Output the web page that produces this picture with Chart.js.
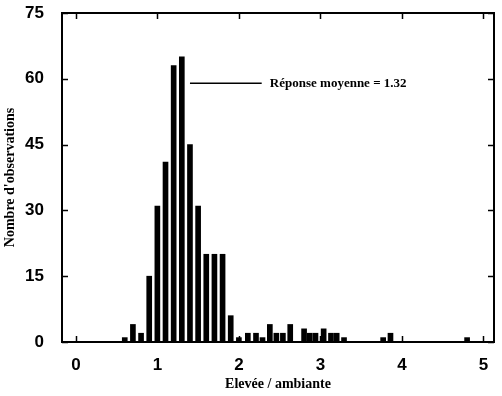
<!DOCTYPE html>
<html>
<head>
<meta charset="utf-8">
<script src="https://cdn.jsdelivr.net/npm/chart.js@4"></script>
<style>
html,body{margin:0;padding:0;background:#fff;}
#wrap{width:502px;height:396px;}
</style>
</head>
<body>
<div id="wrap"><canvas id="c" width="502" height="396"></canvas></div>
<script>
// ---- data ----
const ratios = [0.6, 0.7, 0.8, 0.9, 1.0, 1.1, 1.2, 1.3, 1.4, 1.5, 1.6, 1.7, 1.8, 1.9, 2.0,
                2.11, 2.21, 2.29, 2.38, 2.46, 2.54, 2.63, 2.80, 2.87, 2.94, 3.04, 3.13, 3.20, 3.29,
                3.77, 3.86, 4.8];
const counts = [1, 4, 2, 15, 31, 41, 63, 65, 45, 31, 20, 20, 20, 6, 1,
                2, 2, 1, 4, 2, 2, 4, 3, 2, 2, 3, 2, 2, 1,
                1, 2, 1];
const xTickValues = [0, 1, 2, 3, 4, 5];
const yTickValues = [0, 15, 30, 45, 60, 75];
const xTitle = 'Elevée / ambiante';
const yTitle = "Nombre d'observations";
const meanLabel = 'Réponse moyenne = 1.32';

const points = ratios.map((r, i) => ({x: r, y: counts[i]}));

const boxPlugin = {
  id: 'boxAndAnnot',
  afterDraw(chart) {
    const {ctx, chartArea: a, scales: {x, y}} = chart;
    ctx.save();
    ctx.strokeStyle = '#000';
    // box top and right
    ctx.lineWidth = 2;
    ctx.beginPath();
    ctx.moveTo(a.left, a.top);
    ctx.lineTo(a.right, a.top);
    ctx.lineTo(a.right, a.bottom);
    ctx.stroke();
    // inward ticks
    ctx.lineWidth = 1.5;
    const tl = 6;
    ctx.beginPath();
    xTickValues.forEach(v => {
      const px = Math.round(x.getPixelForValue(v)) + 0.5;
      ctx.moveTo(px, a.bottom); ctx.lineTo(px, a.bottom - tl);
      ctx.moveTo(px, a.top); ctx.lineTo(px, a.top + tl);
    });
    yTickValues.forEach(v => {
      const py = Math.round(y.getPixelForValue(v)) + 0.5;
      ctx.moveTo(a.left, py); ctx.lineTo(a.left + tl, py);
      ctx.moveTo(a.right, py); ctx.lineTo(a.right - tl, py);
    });
    ctx.stroke();
    // annotation
    const ly = y.getPixelForValue(59);
    ctx.lineWidth = 1.5;
    ctx.beginPath();
    ctx.moveTo(x.getPixelForValue(1.40), ly);
    ctx.lineTo(x.getPixelForValue(2.28), ly);
    ctx.stroke();
    ctx.fillStyle = '#000';
    ctx.font = 'bold 13px "Liberation Serif", "Times New Roman", serif';
    ctx.textBaseline = 'middle';
    ctx.textAlign = 'left';
    ctx.fillText(meanLabel, x.getPixelForValue(2.38), ly);
    ctx.restore();
  }
};

new Chart(document.getElementById('c'), {
  type: 'bar',
  data: {
    datasets: [{
      data: points,
      backgroundColor: '#000',
      borderWidth: 0,
      barThickness: 5
    }]
  },
  options: {
    responsive: false,
    animation: false,
    layout: {padding: {top: 13, right: 8, left: 0, bottom: 0}},
    plugins: {legend: {display: false}, tooltip: {enabled: false}},
    scales: {
      x: {
        type: 'linear',
        offset: false,
        min: -0.17,
        max: 5.13,
        afterBuildTicks(s) { s.ticks = xTickValues.map(v => ({value: v})); },
        afterFit(s) { s.height = 54; s.paddingLeft = 0; s.paddingRight = 0; },
        grid: {display: false, drawTicks: false, offset: false},
        border: {display: true, color: '#000', width: 2},
        ticks: {
          color: '#000',
          padding: 13,
          maxRotation: 0,
          autoSkip: false,
          font: {family: '"Liberation Sans", Arial, sans-serif', size: 17, weight: 'bold'}
        },
        title: {
          display: true,
          text: xTitle,
          color: '#000',
          padding: {top: 0, bottom: 3},
          font: {family: '"Liberation Serif", "Times New Roman", serif', size: 14, weight: 'bold'}
        }
      },
      y: {
        min: 0,
        max: 75,
        afterBuildTicks(s) { s.ticks = yTickValues.map(v => ({value: v})); },
        afterFit(s) { s.width = 62; s.paddingTop = 0; s.paddingBottom = 0; },
        grid: {display: false, drawTicks: false},
        border: {display: true, color: '#000', width: 2},
        ticks: {
          color: '#000',
          padding: 18,
          autoSkip: false,
          font: {family: '"Liberation Sans", Arial, sans-serif', size: 17, weight: 'bold'}
        },
        title: {
          display: true,
          text: yTitle,
          color: '#000',
          padding: {top: 2, bottom: 0},
          font: {family: '"Liberation Serif", "Times New Roman", serif', size: 14, weight: 'bold'}
        }
      }
    }
  },
  plugins: [boxPlugin]
});
</script>
</body>
</html>
